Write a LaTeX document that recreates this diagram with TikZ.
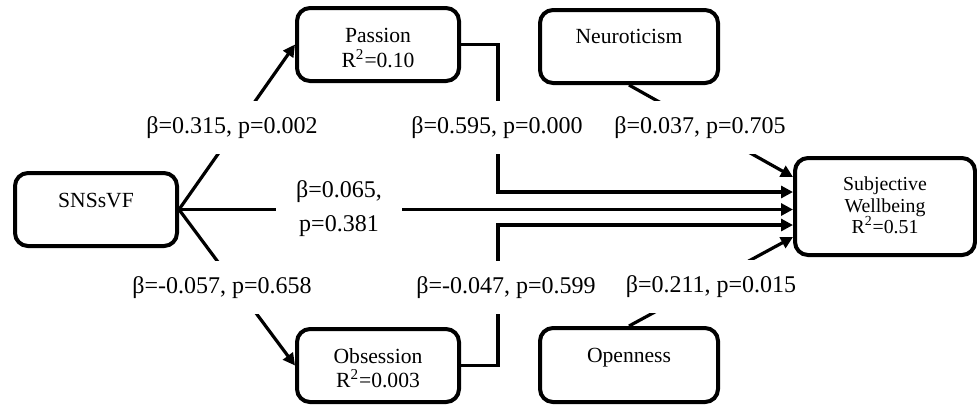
\documentclass[tikz,border=0pt]{standalone}
\usepackage{fontspec}
\setmainfont{Liberation Serif}
\usetikzlibrary{arrows.meta}
\begin{document}
\begin{tikzpicture}[x=0.5pt,y=-0.5pt,
  box/.style={draw, line width=2pt, rounded corners=6.5pt, inner sep=0pt},
  txt/.style={font=\fontsize{10.8pt}{12pt}\selectfont, anchor=base, inner sep=0pt},
  txtsm/.style={font=\fontsize{9.9pt}{11pt}\selectfont, anchor=base, inner sep=0pt},
  lab/.style={fill=white, font=\fontsize{12pt}{14pt}\selectfont, anchor=base,
              inner xsep=10pt, inner ysep=7.5pt, text height=8.5pt, text depth=3pt},
  labtwo/.style={fill=white, font=\fontsize{12pt}{17pt}\selectfont, align=center,
              inner xsep=10pt, inner ysep=2pt},
  conn/.style={line width=1.6pt, -{Triangle[length=6pt,width=6pt]}}]
\useasboundingbox (0,0) rectangle (977,404);

% boxes
\node[box, minimum width=81pt, minimum height=36.5pt] (sns) at (96,209.5) {};
\node[box, minimum width=81pt, minimum height=36.5pt] (pas) at (378,44.5) {};
\node[box, minimum width=81pt, minimum height=36.5pt] (obs) at (378,365.5) {};
\node[box, minimum width=89pt, minimum height=36.5pt] (neu) at (629,46.5) {};
\node[box, minimum width=89pt, minimum height=37pt] (opn) at (629,365) {};
\node[box, minimum width=90pt, minimum height=48.5pt] (swb) at (885,206.5) {};

% box texts
\node[txt] (tsns) at (96,207) {SNSsVF};
\node[txt] (tpas1) at (378,42) {Passion};
\node[txt] (tpas2) at (378,67) {R\textsuperscript{2}=0.10};
\node[txt] (tobs1) at (378,363) {Obsession};
\node[txt] (tobs2) at (378,387) {R\textsuperscript{2}=0.003};
\node[txt] (tneu) at (629,43) {Neuroticism};
\node[txt] (topn) at (629,362) {Openness};
\node[txtsm] (tsw1) at (885,190) {Subjective};
\node[txtsm] (tsw2) at (885,212) {Wellbeing};
\node[txtsm] (tsw3) at (885,233) {R\textsuperscript{2}=0.51};

% connectors
\coordinate (pk) at (498,192);
\coordinate (ok) at (498,225);
\draw[conn] (sns.east) -- (pas.west);
\draw[conn] (sns.east) -- (obs.west);
\draw[conn] (sns.east) -- (sns.east -| swb.west);
\draw[conn] (pas.east) -| (pk) -- (pk -| swb.west);
\draw[conn] (obs.east) -| (ok) -- (ok -| swb.west);
\draw[conn] (neu.south) -- ([yshift=14.75pt]swb.west);
\draw[conn] (opn.north) -- ([yshift=-15.25pt]swb.west);

% labels
\node[lab] (l1) at (232,133) {β=0.315, p=0.002};
\node[lab] (l2) at (222,293) {β=-0.057, p=0.658};
\node[lab] (l3) at (497,133) {β=0.595, p=0.000};
\node[lab] (l4) at (506,293) {β=-0.047, p=0.599};
\node[lab] (l5) at (700,133) {β=0.037, p=0.705};
\node[lab] (l6) at (711,292) {β=0.211, p=0.015};
\node[labtwo] (l7) at (339,209) {β=0.065,\\p=0.381};
\end{tikzpicture}
\end{document}
